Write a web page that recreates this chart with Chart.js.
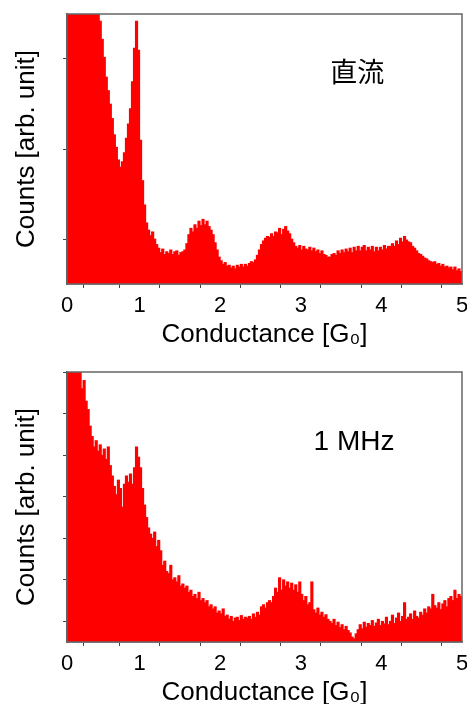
<!DOCTYPE html>
<html>
<head>
<meta charset="utf-8">
<script src="https://cdn.jsdelivr.net/npm/chart.js@4.4.1/dist/chart.umd.min.js"></script>
<style>
html,body{margin:0;padding:0;background:#fff;overflow:hidden;width:467px;height:704px}
.panel{position:absolute;left:0;width:467px;height:358px}
#top{top:0}
#bottom{top:358px}
</style>
</head>
<body>
<div class="panel" id="top"><canvas id="dcChart"></canvas></div>
<div class="panel" id="bottom"><canvas id="acChart"></canvas></div>
<script>
// histogram bins: conductance in G0
const binStart = 0.1
const binWidth = 0.025

// DC histogram, one row = 0.25 G0
const dcCounts = [
4.0,4.2,4.3,4.4,4.3,4.2,4.1,4.0,3.9,3.8,
3.6,3.5,3.4,3.3,3.15,3.02,2.92,2.72,2.52,2.3,
2.15,2.0,1.84,1.66,1.52,1.38,1.3,1.36,1.46,1.62,
1.78,1.95,2.25,2.62,2.92,2.6,1.6,1.15,0.88,0.68,
0.6,0.54,0.58,0.5,0.44,0.4,0.35,0.39,0.33,0.36,
0.34,0.38,0.33,0.36,0.37,0.32,0.35,0.36,0.38,0.45,
0.55,0.62,0.58,0.66,0.62,0.7,0.65,0.72,0.66,0.7,
0.64,0.6,0.55,0.46,0.38,0.3,0.26,0.22,0.24,0.2,
0.21,0.18,0.2,0.17,0.21,0.19,0.22,0.19,0.22,0.2,
0.23,0.25,0.24,0.27,0.32,0.38,0.44,0.48,0.51,0.53,
0.52,0.56,0.53,0.58,0.57,0.62,0.55,0.61,0.64,0.59,
0.56,0.5,0.46,0.42,0.4,0.43,0.38,0.42,0.39,0.38,
0.41,0.37,0.4,0.36,0.38,0.34,0.37,0.33,0.32,0.3,
0.3,0.33,0.34,0.32,0.37,0.34,0.38,0.35,0.39,0.36,
0.4,0.35,0.41,0.37,0.42,0.37,0.41,0.43,0.37,0.41,
0.38,0.42,0.36,0.41,0.37,0.41,0.38,0.43,0.39,0.42,
0.42,0.45,0.42,0.48,0.44,0.51,0.47,0.53,0.49,0.47,
0.46,0.42,0.4,0.37,0.34,0.33,0.31,0.29,0.28,0.26,
0.25,0.24,0.25,0.22,0.23,0.2,0.22,0.19,0.2,0.18,
0.19,0.16,0.19,0.15,0.17,0.14
]

// 1 MHz histogram
const acCounts = [
7.0,7.2,7.1,6.9,6.8,6.7,6.6,6.1,6.3,5.8,
5.6,5.2,4.95,4.7,4.85,4.6,4.75,4.5,4.65,4.4,
4.7,4.25,4.0,3.75,3.55,3.9,3.7,3.25,3.8,4.0,
3.85,4.05,3.8,4.2,4.7,4.45,4.2,3.7,3.3,3.0,
2.75,2.6,2.5,2.65,2.3,2.45,2.2,1.85,1.95,1.7,
1.65,1.85,1.5,1.55,1.45,1.6,1.35,1.4,1.3,1.35,
1.2,1.25,1.1,1.15,1.05,1.2,1.0,1.05,0.95,1.0,
0.85,0.9,0.8,0.85,0.7,0.75,0.68,0.8,0.62,0.65,
0.55,0.62,0.5,0.58,0.6,0.52,0.64,0.55,0.6,0.58,
0.62,0.55,0.68,0.6,0.72,0.65,0.85,0.9,0.82,0.95,
1.0,0.95,1.1,1.3,1.2,1.55,1.25,1.5,1.35,1.45,
1.3,1.42,1.25,1.38,1.2,1.45,1.15,1.0,1.1,0.9,
0.95,1.45,0.78,0.7,0.82,0.65,0.72,0.6,0.66,0.55,
0.5,0.45,0.55,0.4,0.48,0.35,0.42,0.3,0.38,0.28,
0.22,0.12,0.08,0.2,0.3,0.42,0.32,0.48,0.36,0.45,
0.4,0.52,0.38,0.46,0.55,0.4,0.5,0.44,0.6,0.42,
0.5,0.65,0.45,0.58,0.7,0.5,0.62,0.95,0.55,0.6,
0.68,0.55,0.75,0.62,0.58,0.72,0.65,0.8,0.7,0.85,
0.8,1.15,0.88,0.82,0.95,0.78,0.92,1.0,0.85,1.05,
1.1,1.0,1.25,1.05,1.15,1.1
]

const xTickValues = [0.1,0.5,1,1.5,2,2.5,3,3.5,4,4.5,5]
const xTickLabels = ["0","","1","","2","","3","","4","","5"]
const dcYTicks = [0.5,1.5,2.5]
const acYTicks = [0.5,1.5,2.5,3.5,4.5,5.5,6.5]

const FONT = "'Liberation Sans', Arial, sans-serif"

const framePlugin = {
id:"frame",
afterDatasetsDraw(chart){
const a = chart.chartArea
const ctx = chart.ctx
ctx.save()
ctx.strokeStyle = "#666"
ctx.lineWidth = 1.5
ctx.strokeRect(a.left, a.top, a.right - a.left, a.bottom - a.top)
ctx.restore()
}
}

const notePlugin = {
id:"note",
afterDraw(chart, args, opts){
const ctx = chart.ctx
ctx.save()
ctx.font = opts.font
ctx.fillStyle = "#000"
ctx.textAlign = "center"
ctx.textBaseline = "middle"
ctx.fillText(opts.text, chart.scales.x.getPixelForValue(opts.x), chart.scales.y.getPixelForValue(opts.y))
ctx.restore()
}
}

function makeChart(id, counts, yMax, yTicks, note){

return new Chart(document.getElementById(id), {
type:"bar",
data:{
datasets:[{
data: counts.map((v,i)=>({x: binStart + binWidth*(i+0.5), y: v})),
backgroundColor:"#ff0000",
borderWidth:0,
barThickness:2.5
}]
},
plugins:[framePlugin, notePlugin],
options:{
responsive:true,
maintainAspectRatio:false,
animation:false,
layout:{padding:{top:14,right:5,left:0,bottom:0}},
plugins:{
legend:{display:false},
tooltip:{enabled:false},
note: note
},
scales:{
x:{
type:"linear",
min:0.1,
max:5,
offset:false,
afterBuildTicks: s => { s.ticks = xTickValues.map(v=>({value:v})) },
afterFit: s => { s.height = 74; s.paddingLeft = 0; s.paddingRight = 0 },
grid:{drawOnChartArea:false, tickLength:4, tickColor:"#444"},
border:{color:"#555", width:1.5},
ticks:{
autoSkip:false, maxRotation:0, padding:5,
color:"#000", font:{family:FONT, size:22},
callback:(v,i)=>xTickLabels[i]
},
title:{
display:true, text:"Conductance [G₀]", color:"#000",
font:{family:FONT, size:26}, padding:{top:0,bottom:8}
}
},
y:{
min:0,
max:yMax,
afterBuildTicks: s => { s.ticks = yTicks.map(v=>({value:v})) },
afterFit: s => { s.width = 67; s.paddingTop = 0; s.paddingBottom = 0 },
grid:{drawOnChartArea:false, tickLength:4, tickColor:"#444"},
border:{color:"#555", width:1.5},
ticks:{display:false},
title:{
display:true, text:"Counts [arb. unit]", color:"#000",
font:{family:FONT, size:26}, padding:{top:11,bottom:0}
}
}
}
}
})

}

makeChart("dcChart", dcCounts, 3, dcYTicks,
{text:"直流", x:3.7, y:2.36, font:"27px 'Noto Sans CJK JP'"})
makeChart("acChart", acCounts, 6.5, acYTicks,
{text:"1 MHz", x:3.66, y:4.8, font:"28px " + FONT})
</script>
</body>
</html>
